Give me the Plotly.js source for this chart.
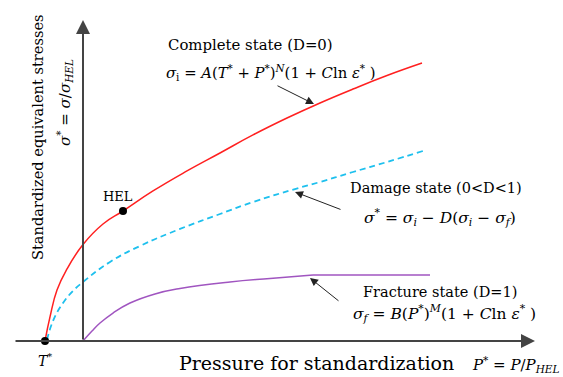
<!DOCTYPE html>
<html><head><meta charset="utf-8">
<script src="https://cdn.plot.ly/plotly-3.0.1.min.js"></script>
<style>html,body{margin:0;padding:0;background:#fff;}#chart{width:563px;height:377px;}</style>
</head><body><div id="chart"></div>
<script>
// Standardized pressure P* (x) and stress sigma* (y)
var completeP = [-0.95, -0.825, -0.65, -0.4, 0, 0.5, 1, 1.75, 2.6, 3.425, 4.25, 5.1, 5.925, 6.75, 7.6, 8.475];
var completeS = [0, 0.185, 0.392, 0.554, 0.742, 0.9, 1, 1.154, 1.308, 1.446, 1.585, 1.715, 1.831, 1.938, 2.042, 2.138];
var damageP = [-0.9, -0.75, -0.5, -0.25, 0, 0.675, 1.425, 2.425, 3.425, 4.25, 5.3, 5.925, 6.75, 7.6, 8.5];
var damageS = [0.008, 0.154, 0.292, 0.385, 0.454, 0.608, 0.731, 0.862, 0.977, 1.069, 1.169, 1.223, 1.3, 1.377, 1.462];
var fractureP = [0, 0.225, 0.425, 0.75, 1.175, 1.8, 2.425, 3.675, 4.675, 5.75];
var fractureS = [0, 0.077, 0.138, 0.215, 0.292, 0.362, 0.404, 0.454, 0.481, 0.508];
var fracturePlateauP = [5.75, 8.675];
var fracturePlateauS = [0.508, 0.508];
var pointP = [-0.95, 1];
var pointS = [0, 1];

var W = 563, H = 377;
function px(x){return x / W;}
function py(y){return 1 - y / H;}
var serif = 'DejaVu Serif';

var traces = [
  {x: completeP, y: completeS, mode: 'lines', line: {color: '#ff2020', width: 1.5, shape: 'spline', smoothing: 1.3}, hoverinfo: 'none'},
  {x: damageP, y: damageS, mode: 'lines', line: {color: '#1ec0ee', width: 1.8, dash: '6px,4px', shape: 'spline', smoothing: 1.3}, hoverinfo: 'none'},
  {x: fractureP, y: fractureS, mode: 'lines', line: {color: '#a055c0', width: 1.5, shape: 'spline', smoothing: 1.3}, hoverinfo: 'none'},
  {x: fracturePlateauP, y: fracturePlateauS, mode: 'lines', line: {color: '#a055c0', width: 1.5}, hoverinfo: 'none'},
  {x: pointP, y: pointS, mode: 'markers', marker: {color: '#000', size: 8}, hoverinfo: 'none'}
];

function txt(x, y, text, size, extra){
  var a = {xref: 'paper', yref: 'paper', x: px(x), y: py(y), text: text, showarrow: false,
    xanchor: 'center', yanchor: 'middle', font: {family: serif, size: size, color: '#000'}};
  for (var k in extra) a[k] = extra[k];
  return a;
}
function arr(x0, y0, x1, y1, w, color, size){
  return {xref: 'x', yref: 'y', axref: 'x', ayref: 'y', x: x1, y: y1, ax: x0, ay: y0, text: '',
    showarrow: true, arrowhead: 2, arrowsize: size, arrowwidth: w, arrowcolor: color, standoff: 0, startstandoff: 0};
}
function dx(p){return (p - 83) / 40;}
function dy(p){return (341 - p) / 130;}

var annotations = [
  arr(dx(14), 0, dx(535), 0, 2, '#444', 1.4),
  arr(0, 0, 0, dy(20), 2, '#444', 1.4),
  arr(dx(276), dy(85), dx(314), dy(104), 1, '#222', 1.6),
  arr(dx(342), dy(210), dx(295), dy(192), 1, '#222', 1.6),
  arr(dx(340), dy(302), dx(310), dy(278), 1, '#222', 1.6),
  txt(250, 45, 'Complete state (D=0)', 14.9),
  txt(271, 72, '<i>σ</i><sub>i</sub> = <i>A</i>(<i>T</i><sup>*</sup> + <i>P</i><sup>*</sup>)<sup><i>N</i></sup>(1 + <i>C</i>ln <i>ε</i><sup>*</sup> )', 14.8),
  txt(436, 188, 'Damage state (0&lt;D&lt;1)', 14.5),
  txt(440, 217, '<i>σ</i><sup>*</sup> = <i>σ</i><sub><i>i</i></sub> − <i>D</i>(<i>σ</i><sub><i>i</i></sub> − <i>σ</i><sub><i>f</i></sub>)', 15.5),
  txt(440, 292, 'Fracture state (D=1)', 14.5),
  txt(444, 313, '<i>σ</i><sub><i>f</i></sub> = <i>B</i>(<i>P</i><sup>*</sup>)<sup><i>M</i></sup>(1 + <i>C</i>ln <i>ε</i><sup>*</sup> )', 15.5),
  txt(316, 363, 'Pressure for standardization', 19),
  txt(516, 364, '<i>P</i><sup>*</sup> = <i>P</i>/<i>P</i><sub><i>HEL</i></sub>', 15),
  txt(45, 360, '<i>T</i><sup>*</sup>', 14),
  txt(118, 196, 'HEL', 13),
  txt(37, 137, 'Standardized equivalent stresses', 14.6, {textangle: -90}),
  txt(65, 103, '<i>σ</i><sup>*</sup> = <i>σ</i>/<i>σ</i><sub><i>HEL</i></sub>', 15, {textangle: -90})
];

var layout = {
  width: W, height: H, margin: {l: 0, r: 0, t: 0, b: 0},
  font: {family: serif},
  paper_bgcolor: '#fff', plot_bgcolor: '#fff', showlegend: false,
  xaxis: {range: [(0 - 83) / 40, (563 - 83) / 40], visible: false, fixedrange: true},
  yaxis: {range: [(341 - 377) / 130, 341 / 130], visible: false, fixedrange: true},
  annotations: annotations
};
Plotly.newPlot('chart', traces, layout, {staticPlot: true, displayModeBar: false});
</script></body></html>
